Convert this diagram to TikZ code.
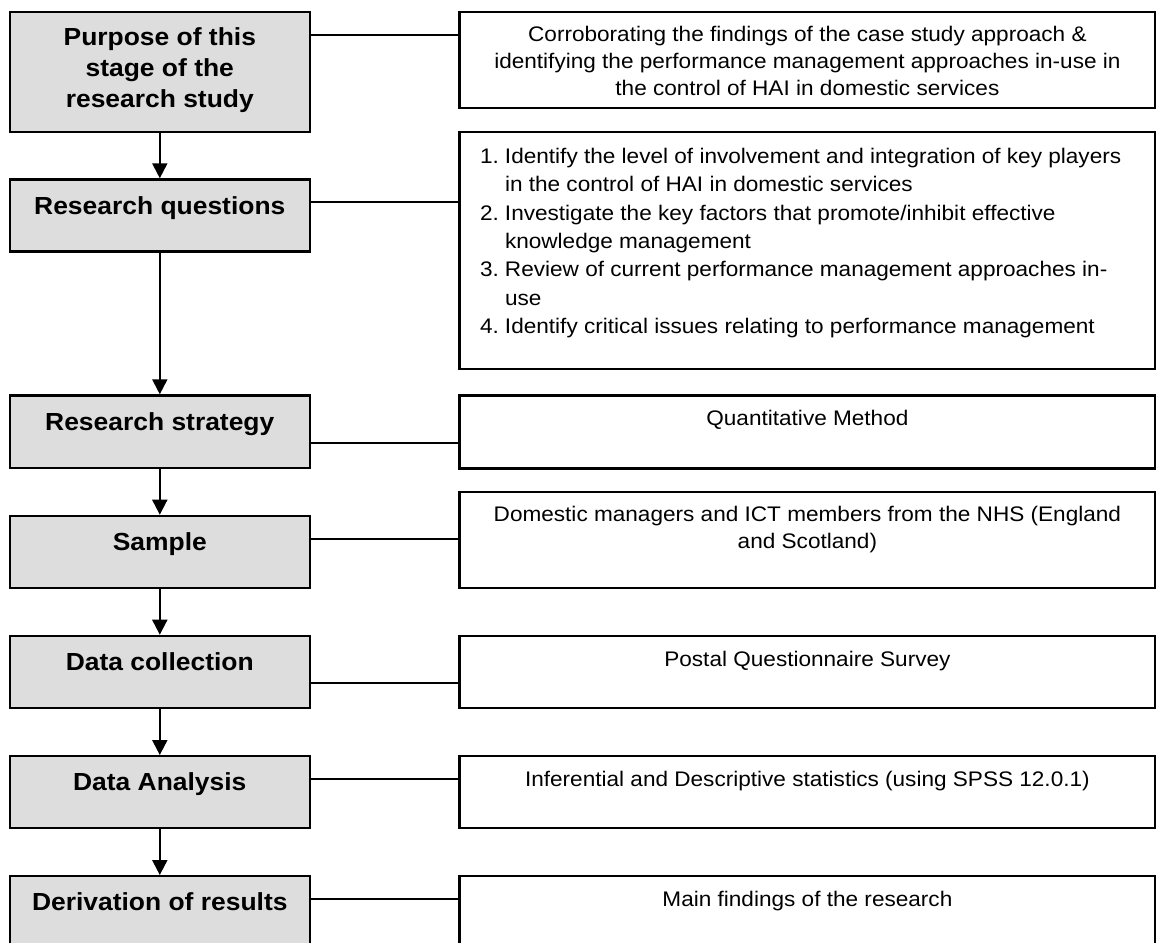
\documentclass[tikz,border=0pt]{standalone}
\usepackage{fontspec}
\setmainfont{Liberation Sans}[FakeStretch=1.07]
\usetikzlibrary{arrows.meta}
\definecolor{stagegray}{RGB}{221,221,221}
\begin{document}
\begin{tikzpicture}[x=1pt,y=-1pt,
  stage/.style={draw=black,line width=2.2pt,fill=stagegray,rectangle,
    inner sep=0pt,minimum width=300pt,anchor=north west},
  detail/.style={draw=black,line width=2.2pt,fill=white,rectangle,
    inner sep=0pt,minimum width=696pt,anchor=north west},
  stagetext/.style={anchor=base,inner sep=0pt,align=center,
    font=\fontsize{24.7}{31}\selectfont\bfseries},
  detailtext/.style={anchor=base,inner sep=0pt,align=center,
    font=\fontsize{21.1}{26.7}\selectfont},
  listtext/.style={anchor=base west,inner sep=0pt,align=left,
    font=\fontsize{21.1}{28.3}\selectfont},
  flow/.style={line width=2pt,-{Triangle[width=15pt,length=15pt]}},
  link/.style={line width=1.8pt}]
\clip (0,0) rectangle (1156,942);
\fill[white] (0,0) rectangle (1156,942);

% stages of the study (left column)
\node[stage,minimum height=120pt] (s1) at (8.7,10.7) {};
\node[stage,minimum height=72pt]  (s2) at (8.7,178.3) {};
\node[stage,minimum height=72.4pt] (s3) at (8.7,394.3) {};
\node[stage,minimum height=72pt]  (s4) at (8.7,514.7) {};
\node[stage,minimum height=72pt]  (s5) at (8.7,634.7) {};
\node[stage,minimum height=72pt]  (s6) at (8.7,755) {};
\node[stage,minimum height=72pt]  (s7) at (8.7,875) {};

% the base anchor of a multi-line node sits on its last line
\node[stagetext] (t1) at ([yshift=-97pt]s1.north) {Purpose of this\\stage of the\\research study};
\node[stagetext] (t2) at ([yshift=-36pt]s2.north) {Research questions};
\node[stagetext] (t3) at ([yshift=-36.4pt]s3.north) {Research strategy};
\node[stagetext] (t4) at ([yshift=-35.3pt]s4.north) {Sample};
\node[stagetext] (t5) at ([yshift=-36pt]s5.north) {Data collection};
\node[stagetext] (t6) at ([yshift=-35.7pt]s6.north) {Data Analysis};
\node[stagetext] (t7) at ([yshift=-35pt]s7.north) {Derivation of results};

% details of each stage (right column)
\node[detail,minimum height=96pt]   (d1) at (458.3,10.7) {};
\node[detail,minimum height=237pt]  (d2) at (458.3,130.7) {};
\node[detail,minimum height=73pt]   (d3) at (458.3,394.3) {};
\node[detail,minimum height=95.7pt] (d4) at (458.3,491) {};
\node[detail,minimum height=72pt]   (d5) at (458.3,635) {};
\node[detail,minimum height=71.7pt] (d6) at (458.3,755) {};
\node[detail,minimum height=72pt]   (d7) at (458.3,875) {};

\node[detailtext] (u1) at ([yshift=-84.4pt]d1.north)
  {Corroborating the findings of the case study approach \&\\
   identifying the performance management approaches in-use in\\
   the control of HAI in domestic services};
\node[listtext] (u2) at ([xshift=21.5pt,yshift=-202.6pt]d2.north west)
  {\makebox[25pt][l]{1.}Identify the level of involvement and integration of key players\\
   \hspace*{25pt}in the control of HAI in domestic services\\
   \makebox[25pt][l]{2.}Investigate the key factors that promote/inhibit effective\\
   \hspace*{25pt}knowledge management\\
   \makebox[25pt][l]{3.}Review of current performance management approaches in-\\
   \hspace*{25pt}use\\
   \makebox[25pt][l]{4.}Identify critical issues relating to performance management};
\node[detailtext] (u3) at ([yshift=-31.4pt]d3.north) {Quantitative Method};
\node[detailtext] (u4) at ([yshift=-57.3pt]d4.north)
  {Domestic managers and ICT members from the NHS (England\\and Scotland)};
\node[detailtext] (u5) at ([yshift=-31pt]d5.north) {Postal Questionnaire Survey};
\node[detailtext] (u6) at ([yshift=-31.7pt]d6.north) {Inferential and Descriptive statistics (using SPSS 12.0.1)};
\node[detailtext] (u7) at ([yshift=-31.7pt]d7.north) {Main findings of the research};

% flow between stages
\foreach \a/\b in {s1/s2,s2/s3,s3/s4,s4/s5,s5/s6,s6/s7}
  \draw[flow] (\a.south) -- (\b.north);

% links from each stage to its details
\foreach \s/\d/\off in {s1/d1/24,s2/d2/24,s3/d3/48.4,s4/d4/24,s5/d5/48,s6/d6/23.7,s7/d7/23.7}
  \draw[link] ([yshift=-\off pt]\s.north east) -- ([yshift=-\off pt]\s.north east -| \d.west);
\end{tikzpicture}
\end{document}
